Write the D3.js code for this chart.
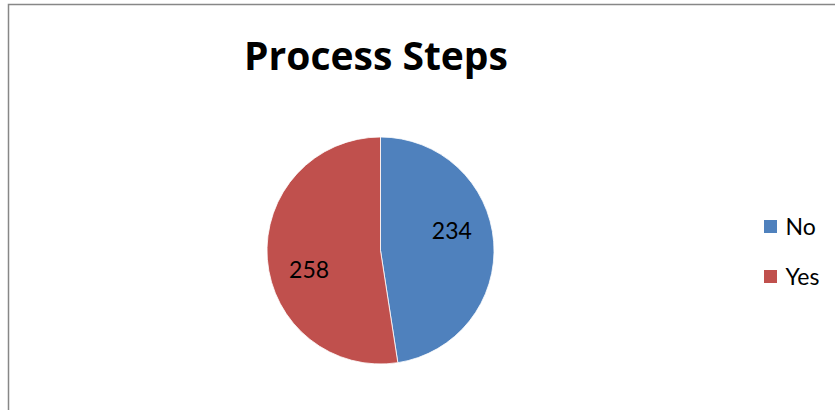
<!DOCTYPE html>
<html>
<head>
<meta charset="utf-8">
<script src="https://cdn.jsdelivr.net/npm/d3@7"></script>
<style>
  html, body { margin: 0; padding: 0; background: #fff; }
  svg { display: block; }
</style>
</head>
<body>
<svg id="chart" width="835" height="410"></svg>
<script>
const categories = ["No", "Yes"];
const values = [234, 258];
const colors = ["#4F81BD", "#C0504D"];
const title = "Process Steps";

const W = 835, H = 410;
const svg = d3.select("#chart");
const font = "Lato, Carlito, Calibri, 'Open Sans', sans-serif";
const titleFont = "'Open Sans', 'Noto Sans', sans-serif";

// chart area border (only left/top visible in frame)
svg.append("rect")
  .attr("x", 8.5).attr("y", 4.5)
  .attr("width", W + 20).attr("height", H + 20)
  .attr("fill", "#fff")
  .attr("stroke", "#878787")
  .attr("stroke-width", 1.5);

svg.append("text")
  .attr("x", 376).attr("y", 70)
  .attr("text-anchor", "middle")
  .attr("font-family", titleFont)
  .attr("font-weight", "bold")
  .attr("font-size", 39)
  .attr("fill", "#000")
  .text(title);

const cx = 380.5, cy = 250.5, R = 113.5;
const data = categories.map((c, i) => ({ cat: c, value: values[i], color: colors[i] }));
const pie = d3.pie().sort(null).value(d => d.value).startAngle(0).endAngle(2 * Math.PI);
const arcs = pie(data);
const arc = d3.arc().innerRadius(0).outerRadius(R);

const g = svg.append("g").attr("transform", `translate(${cx},${cy})`);
g.selectAll("path.slice")
  .data(arcs)
  .join("path")
  .attr("class", "slice")
  .attr("d", arc)
  .attr("fill", d => d.data.color)
  .attr("stroke", "#fff")
  .attr("stroke-width", 0.8);

// labels (best-fit placement: slightly rotated from mid-angle)
const labelR = 74, labelShift = -0.19;
g.selectAll("text.lbl")
  .data(arcs)
  .join("text")
  .attr("class", "lbl")
  .attr("x", d => labelR * Math.sin((d.startAngle + d.endAngle) / 2 + labelShift))
  .attr("y", d => -labelR * Math.cos((d.startAngle + d.endAngle) / 2 + labelShift))
  .attr("dy", "0.36em")
  .attr("text-anchor", "middle")
  .attr("font-family", font)
  .attr("font-size", 23)
  .attr("fill", "#000")
  .text(d => d.data.value);

// legend
const legend = svg.append("g");
const legY = d3.scalePoint().domain(categories).range([226.5, 276.5]);
const items = legend.selectAll("g").data(data).join("g")
  .attr("transform", d => `translate(770.5,${legY(d.cat)})`);
items.append("rect")
  .attr("x", -6.5).attr("y", -6.5)
  .attr("width", 13).attr("height", 13)
  .attr("fill", d => d.color);
items.append("text")
  .attr("x", 15).attr("y", 8)
  .attr("font-family", font)
  .attr("font-size", 23)
  .attr("fill", "#000")
  .text(d => d.cat);
</script>
</body>
</html>
